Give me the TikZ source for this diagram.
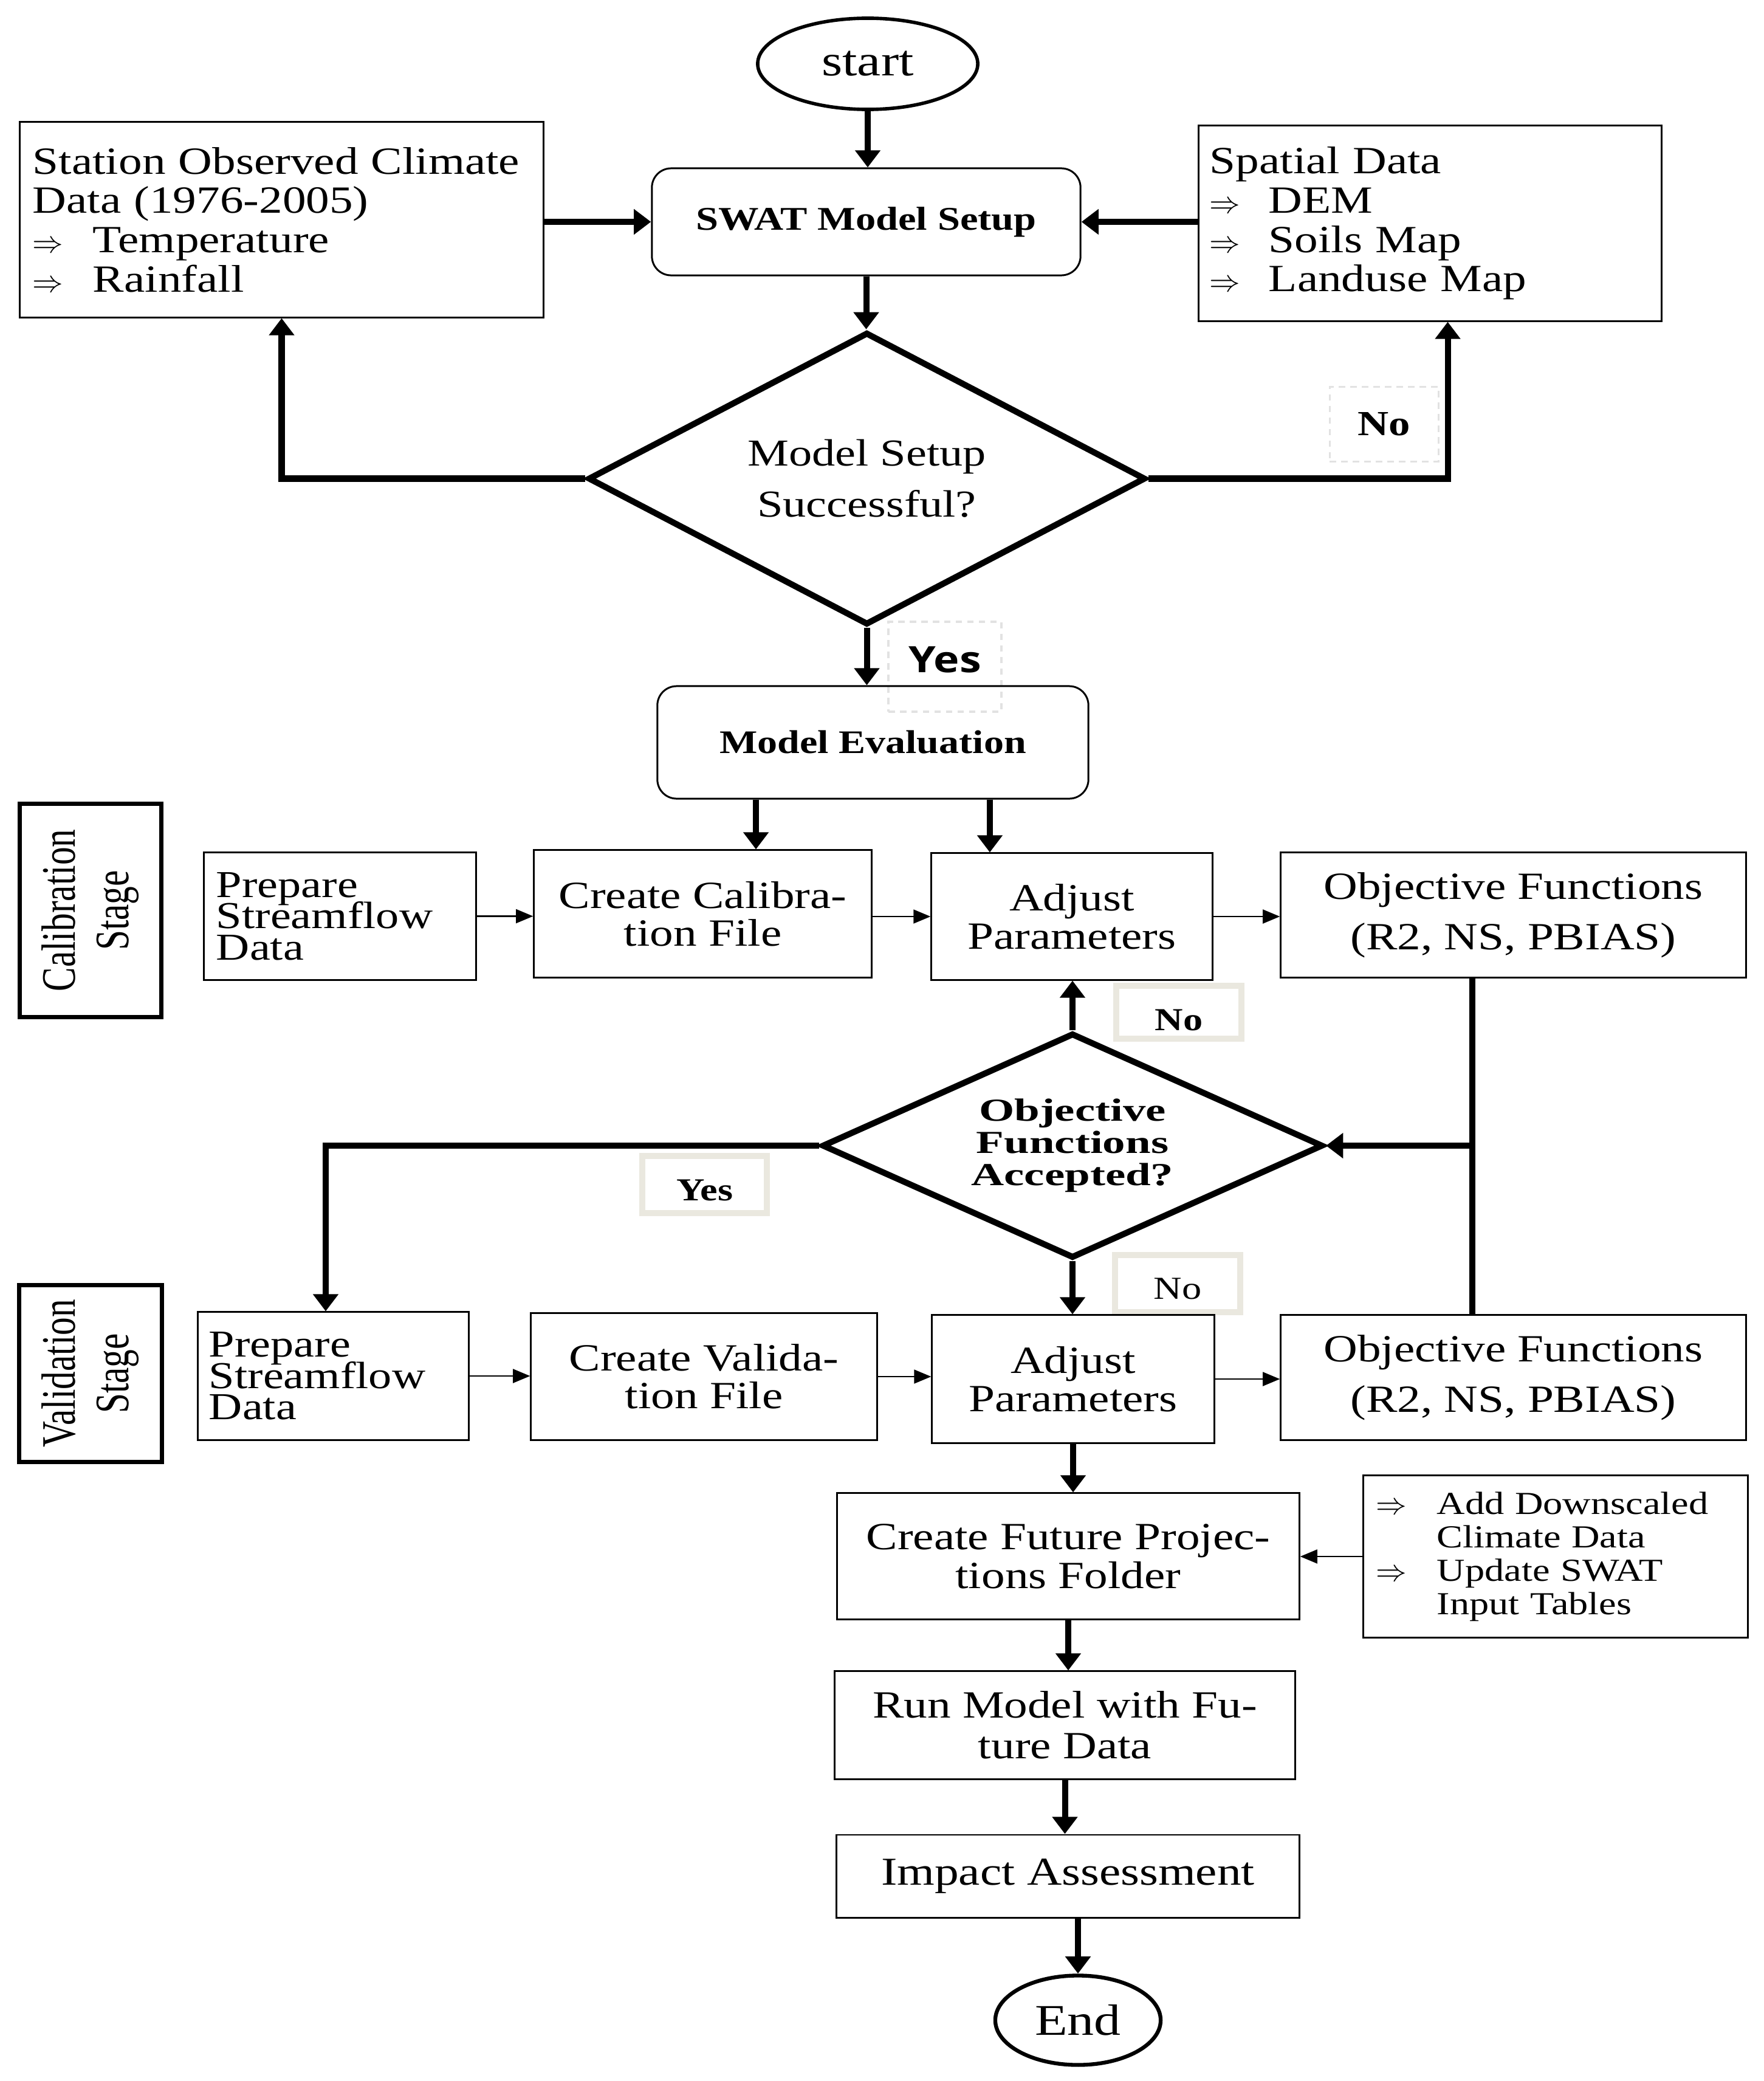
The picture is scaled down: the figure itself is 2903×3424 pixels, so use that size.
\documentclass[tikz,border=0pt]{standalone}
\usepackage{fontspec}
\setmainfont{Liberation Serif}
\newfontfamily\fA[FakeStretch=1.22]{Liberation Serif}
\newfontfamily\fW[FakeStretch=1.42]{Liberation Serif}
\newfontfamily\fN[FakeStretch=0.75]{Liberation Serif}
\newfontfamily\fS[FakeStretch=1.2]{Open Sans}
\usetikzlibrary{shapes.geometric,arrows.meta,calc}
\definecolor{labc}{RGB}{234,232,223}
\definecolor{dashc}{RGB}{226,226,226}
\newcommand{\fsz}[2]{\fontsize{#1}{#2}\selectfont\lineskiplimit=-100pt\relax}
\newcommand{\arrw}[1]{\makebox[#1][l]{\fontsize{14}{14}\selectfont$\Rightarrow$}}
\begin{document}
\begin{tikzpicture}[x=0.01cm, y=-0.01cm, line join=miter,
  box/.style={draw, line width=0.85pt, rectangle, inner sep=0pt, align=center},
  rbox/.style={box, rounded corners=9pt},
  lbox/.style={draw, line width=0.85pt, rectangle, inner ysep=0pt, align=left},
  dia/.style={draw, diamond, line width=2.85pt, inner sep=0pt, align=center},
  oval/.style={draw, ellipse, inner sep=0pt},
  stagebox/.style={draw, line width=2pt, rectangle, inner sep=0pt, align=center, rotate=90, font=\fN\fsz{22.5}{25}},
  thk/.style={line width=2.85pt, -{Triangle[length=8pt,width=11.5pt]}},
  thkline/.style={line width=2.85pt},
  thn/.style={line width=0.7pt, -{Triangle[length=8pt,width=6.5pt]}},
  lsolid/.style={draw=labc, line width=2.8pt, rectangle, inner sep=0pt},
  ldash/.style={draw=dashc, line width=0.9pt, dash pattern=on 3pt off 2.4pt, rectangle, inner sep=0pt},
]
\useasboundingbox (0,0) rectangle (2903,3424);

% ---- branch labels (drawn first, behind) ----
\node[ldash, minimum width=1.79cm, minimum height=1.23cm, font=\fA\bfseries\fsz{16.5}{18}] (lno1) at (2278,698) {No};
\node[ldash, minimum width=1.86cm, minimum height=1.48cm, text depth=0.24cm, font=\fS\bfseries\fsz{17}{20}] (lyes1) at (1555,1097) {Yes};
\node[lsolid, minimum width=2.06cm, minimum height=0.87cm, text height=0.6cm, font=\fA\bfseries\fsz{15}{18}] (lno2) at (1940,1665.5) {No};
\node[lsolid, minimum width=2.05cm, minimum height=0.94cm, text height=0.53cm, font=\fA\bfseries\fsz{15}{18}] (lyes2) at (1159.5,1949) {Yes};
\node[lsolid, minimum width=2.06cm, minimum height=0.94cm, text height=0.51cm, font=\fA\fsz{15}{18}] (lno3) at (1938,2112) {No};

% ---- top part ----
\node[oval, line width=1.6pt, minimum width=3.62cm, minimum height=1.5cm, font=\fA\fsz{20.5}{24}] (start) at (1428,105) {start};
\node[rbox, minimum width=7.05cm, minimum height=1.76cm, font=\fA\bfseries\fsz{15.5}{18}] (swat) at (1425.5,365) {SWAT Model Setup};
\node[lbox, text width=8.19cm, inner xsep=0.21cm, minimum height=3.21cm, font=\fA\fsz{18}{18.4}] (station) at (463.5,361.5) {Station Observed Climate\\Data (1976-2005)\\\arrw{0.99cm}Temperature\\\arrw{0.99cm}Rainfall};
\node[lbox, text width=7.25cm, inner xsep=0.18cm, minimum height=3.21cm, font=\fA\fsz{18}{18.4}] (spatial) at (2353.5,367.5) {Spatial Data\\\arrw{0.97cm}DEM\\\arrw{0.97cm}Soils Map\\\arrw{0.97cm}Landuse Map};
\node[dia, aspect=1.9, minimum width=9.17cm, minimum height=4.81cm, font=\fA\fsz{17.8}{23.8}] (d1) at (1426.5,787.5) {Model Setup\\Successful?};
\node[rbox, minimum width=7.09cm, minimum height=1.85cm, font=\fA\bfseries\fsz{15.4}{18}] (meval) at (1436.5,1221.5) {Model Evaluation};

% ---- calibration row ----
\node[stagebox, minimum width=3.5cm, minimum height=2.32cm] (calst) at (149,1498) {Calibration\\Stage};
\node[lbox, text width=4.07cm, inner xsep=0.2cm, minimum height=2.09cm, font=\fA\fsz{17.8}{14.6}] (prepc) at (559.5,1507.5) {Prepare\\Streamflow\\Data};
\node[box, minimum width=5.55cm, minimum height=2.09cm, font=\fA\fsz{18}{17.7}] (createc) at (1156.5,1503.5) {Create Calibra-\\tion File};
\node[box, minimum width=4.62cm, minimum height=2.08cm, font=\fA\fsz{18}{18}] (adjc) at (1764,1508) {Adjust\\Parameters};
\node[box, minimum width=7.65cm, minimum height=2.05cm, font=\fA\fsz{18}{23.6}] (objc) at (2490.5,1505.5) {Objective Functions\\(R2, NS, PBIAS)};

\node[dia, aspect=2.23, minimum width=8.24cm, minimum height=3.7cm, font=\fW\bfseries\fsz{15}{15}] (d2) at (1765,1885) {Objective\\Functions\\Accepted?};

% ---- validation row ----
\node[stagebox, minimum width=2.9cm, minimum height=2.34cm] (valst) at (149,2260) {Validation\\Stage};
\node[lbox, text width=4.09cm, inner xsep=0.18cm, minimum height=2.1cm, font=\fA\fsz{17.8}{14.6}] (prepv) at (548.5,2264) {Prepare\\Streamflow\\Data};
\node[box, minimum width=5.69cm, minimum height=2.08cm, font=\fA\fsz{18}{17.7}] (createv) at (1158.5,2265) {Create Valida-\\tion File};
\node[box, minimum width=4.64cm, minimum height=2.1cm, font=\fA\fsz{18}{18}] (adjv) at (1766,2269) {Adjust\\Parameters};
\node[box, minimum width=7.65cm, minimum height=2.05cm, font=\fA\fsz{18}{23.6}] (objv) at (2490.5,2266.5) {Objective Functions\\(R2, NS, PBIAS)};

% ---- future part ----
\node[box, minimum width=7.6cm, minimum height=2.07cm, font=\fA\fsz{18}{18.2}] (future) at (1758,2560.5) {Create Future Projec-\\tions Folder};
\node[lbox, text width=5.9cm, inner xsep=0.21cm, minimum height=2.66cm, font=\fA\fsz{15}{15.6}] (side) at (2560,2561) {\arrw{1.0cm}Add Downscaled\\\hspace*{1.0cm}Climate Data\\\arrw{1.0cm}Update SWAT\\\hspace*{1.0cm}Input Tables};
\node[box, minimum width=7.57cm, minimum height=1.77cm, font=\fA\fsz{18}{18.9}] (run) at (1752.5,2838.5) {Run Model with Fu-\\ture Data};
\node[box, minimum width=7.61cm, minimum height=1.36cm, font=\fA\fsz{18.5}{20}] (impact) at (1757.5,3087) {Impact Assessment};
\node[oval, line width=1.8pt, minimum width=2.72cm, minimum height=1.47cm, font=\fA\fsz{20.5}{24}] (endn) at (1774,3324) {End};

% ---- connectors ----
\draw[thk] (start.south) -- (start.south |- swat.north);
\draw[thk] (station.east |- swat.west) -- (swat.west);
\draw[thk] (spatial.west |- swat.east) -- (swat.east);
\draw[thk] (swat.south) -- (swat.south |- d1.north);
\draw[thk] (d1.west) -| (station.south);
\coordinate (spx) at ([xshift=0.29cm]spatial.south);
\draw[thk] (d1.east) -| (spx);
\draw[thk] (d1.south) -- (d1.south |- meval.north);
\coordinate (ccx) at ([xshift=0.875cm]createc.north);
\draw[thk] (ccx |- meval.south) -- (ccx);
\coordinate (acx) at ([xshift=-1.35cm]adjc.north);
\draw[thk] (acx |- meval.south) -- (acx);
\draw[thn] (prepc.east) -- (prepc.east -| createc.west);
\draw[thn] (adjc.west -| createc.east) -- (adjc.west);
\draw[thn] (adjc.east) -- (adjc.east -| objc.west);
\draw[thk] (d2.north) -- (d2.north |- adjc.south);
\coordinate (obx) at ([xshift=-0.675cm]objc.south);
\draw[thkline] (obx) -- (obx |- objv.north);
\draw[thk] (obx |- d2.east) -- (d2.east);
\coordinate (pvx) at ([xshift=-0.125cm]prepv.north);
\draw[thk] (d2.west) -| (pvx);
\draw[thk] (d2.south) -- (d2.south |- adjv.north);
\draw[thn] (prepv.east) -- (prepv.east -| createv.west);
\draw[thn] (createv.east) -- (createv.east -| adjv.west);
\draw[thn] (adjv.east) -- (adjv.east -| objv.west);
\draw[thk] (adjv.south) -- (adjv.south |- future.north);
\draw[thn] (side.west) -- (side.west -| future.east);
\draw[thk] (future.south) -- (future.south |- run.north);
\draw[thk] (run.south) -- (run.south |- impact.north);
\draw[thk] (endn.north |- impact.south) -- (endn.north);
\end{tikzpicture}
\end{document}
